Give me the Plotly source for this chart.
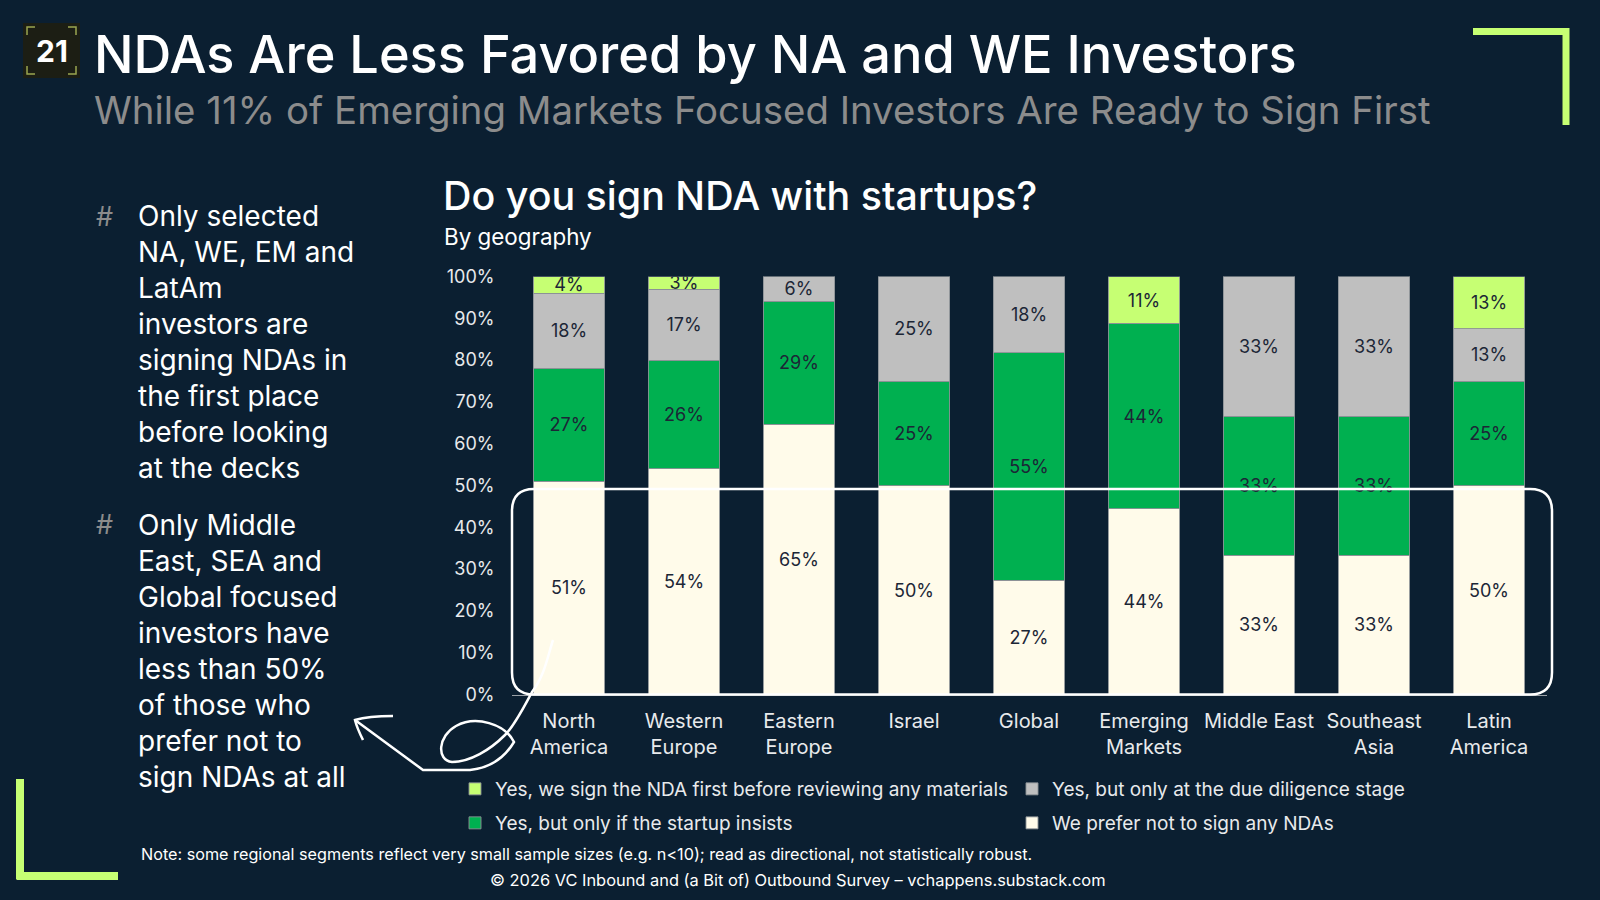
import plotly.graph_objects as go

W, H = 1600, 900

# ---------------- data ----------------
categories = ["North<br>America", "Western<br>Europe", "Eastern<br>Europe", "Israel", "Global",
              "Emerging<br>Markets", "Middle East", "Southeast<br>Asia", "Latin<br>America"]
prefer_not = [51, 54, 64.7, 50, 27.3, 44.4, 33.3, 33.3, 50]
if_insists = [27, 26, 29.4, 25, 54.5, 44.4, 33.3, 33.3, 25]
due_diligence = [18, 17, 5.9, 25, 18.2, 0, 33.3, 33.3, 12.5]
sign_first = [4, 3, 0, 0, 0, 11.1, 0, 0, 12.5]

series_names = [
    "We prefer not to sign any NDAs",
    "Yes, but only if the startup insists",
    "Yes, but only at the due diligence stage",
    "Yes, we sign the NDA first before reviewing any materials",
]
series_values = [prefer_not, if_insists, due_diligence, sign_first]
series_colors = ["#FFFBEA", "#00B050", "#BFBFBF", "#C6FF73"]
series_legend = ["legend2", "legend2", "legend", "legend"]
series_rank = [4, 3, 2, 1]

y_ticks = list(range(0, 101, 10))

bullet1 = ["Only selected", "NA, WE, EM and", "LatAm", "investors are", "signing NDAs in",
           "the first place", "before looking", "at the decks"]
bullet2 = ["Only Middle", "East, SEA and", "Global focused", "investors have", "less than 50%",
           "of those who", "prefer not to", "sign NDAs at all"]

BG = "#0B1F31"
LIME = "#C6FF73"
FONT = "Inter"


def px(x):
    return x / W


def py(y):
    return 1 - y / H


fig = go.Figure()
for name, vals, col, lg, rk in zip(series_names, series_values, series_colors, series_legend, series_rank):
    fig.add_trace(go.Bar(
        x=categories, y=vals, name=name,
        marker=dict(color=col, line=dict(color="rgba(140,145,150,0.9)", width=1)),
        texttemplate=["%{y:.0f}%" if v > 0 else "" for v in vals],
        textposition="inside", insidetextanchor="middle",
        textfont=dict(family=FONT, size=18, color="#1C2636"),
        constraintext="none",
        legend=lg, legendrank=rk, hoverinfo="skip",
    ))

legend_common = dict(orientation="h", x=px(455), xanchor="left", yanchor="middle",
                     entrywidth=512, bgcolor="rgba(0,0,0,0)", traceorder="normal",
                     font=dict(family=FONT, size=19, color="#E8EAEC"), itemclick=False, itemdoubleclick=False)

fig.update_layout(
    width=W, height=H, autosize=False,
    paper_bgcolor=BG, plot_bgcolor=BG,
    margin=dict(l=0, r=0, t=0, b=0, pad=0, autoexpand=False),
    barmode="stack", bargap=0.38,
    uniformtext=dict(minsize=18, mode="show"),
    font=dict(family=FONT, color="#E8EAEC"),
    showlegend=True,
    xaxis=dict(domain=[px(511.5), px(1546.5)], showline=True, linecolor="#9AA0A6", linewidth=1,
               ticks="", tickfont=dict(family=FONT, size=20, color="#E8EAEC"),
               ticklabelstandoff=8, fixedrange=True, automargin=False),
    yaxis=dict(domain=[py(694.5), py(276.5)], range=[0, 100], tickvals=y_ticks,
               ticktext=[f"{t}%" for t in y_ticks], showgrid=False, zeroline=False, showline=False,
               ticks="", tickfont=dict(family=FONT, size=18, color="#E8EAEC"),
               ticklabelstandoff=16, fixedrange=True, automargin=False),
    legend=dict(legend_common, y=py(789)),
    legend2=dict(legend_common, y=py(823)),
)

ann = []


def text(x, y, s, size, color="#FFFFFF", xanchor="left", yanchor="middle", weight=None, align="left"):
    f = dict(family=FONT, size=size, color=color)
    if weight:
        f["weight"] = weight
    ann.append(dict(x=px(x), y=py(y), xref="paper", yref="paper", text=s, showarrow=False,
                    xanchor=xanchor, yanchor=yanchor, font=f, align=align))


# titles
text(92, 54, "NDAs Are Less Favored by NA and WE Investors", 52.3, "#FFFFFF", weight=500)
text(92, 110, "While 11% of Emerging Markets Focused Investors Are Ready to Sign First", 38.4, "#8C8C8C")
text(441, 196, "Do you sign NDA with startups?", 39.4, "#FFFFFF", weight=500)
text(442, 236, "By geography", 22.4, "#FFFFFF")

# badge
text(51.5, 51, "21", 30, "#FFFFFF", xanchor="center", weight=700)

# bullets
for i, s in enumerate(bullet1):
    text(136, 216.3 + 36.0 * i, s, 28, "#FFFFFF")
for i, s in enumerate(bullet2):
    text(136, 524.5 + 36.0 * i, s, 28, "#FFFFFF")
text(94, 216.3, "#", 27, "#8C8C8C")
text(94, 524.5, "#", 27, "#8C8C8C")

# footnotes
text(139, 854, "Note: some regional segments reflect very small sample sizes (e.g. n<10); read as directional, not statistically robust.", 16.2, "#FFFFFF")
text(798, 880, "© 2026 VC Inbound and (a Bit of) Outbound Survey – vchappens.substack.com", 16.4, "#FFFFFF", xanchor="center")

fig.update_layout(annotations=ann)

shapes = []


def line(x0, y0, x1, y1, color, width):
    shapes.append(dict(type="line", xref="paper", yref="paper", x0=px(x0), y0=py(y0), x1=px(x1), y1=py(y1),
                       line=dict(color=color, width=width)))


def path(pts_str, color="#FFFFFF", width=2.5, fill=None):
    d = dict(type="path", xref="paper", yref="paper", path=pts_str, line=dict(color=color, width=width))
    if fill:
        d["fillcolor"] = fill
    shapes.append(d)


def P(x, y):
    return f"{px(x):.5f},{py(y):.5f}"


# badge box + corner brackets
shapes.append(dict(type="rect", xref="paper", yref="paper", x0=px(23), y0=py(78), x1=px(80), y1=py(23),
                   fillcolor="#1C1E14", line=dict(width=0)))
bc = "#9AA650"
L0, R0, T0, B0, k = 27, 76, 27, 74, 8
for (cx, cy, dx, dy) in [(L0, T0, 1, 1), (R0, T0, -1, 1), (L0, B0, 1, -1), (R0, B0, -1, -1)]:
    path(f"M{P(cx + dx * k, cy)} L{P(cx, cy)} L{P(cx, cy + dy * k)}", bc, 1.5)

# corner decorations
line(1473, 31.5, 1566, 31.5, LIME, 7)
line(1566, 28, 1566, 125, LIME, 7)
line(20, 779, 20, 879, LIME, 8)
line(16.5, 876, 118, 876, LIME, 8)

# rounded highlight rectangle
l, r, t, b, rad = 512, 1552, 489, 694.5, 22
rect_path = (f"M{P(l + rad, t)} L{P(r - rad, t)} Q{P(r, t)} {P(r, t + rad)} L{P(r, b - rad)} "
             f"Q{P(r, b)} {P(r - rad, b)} L{P(l + rad, b)} Q{P(l, b)} {P(l, b - rad)} "
             f"L{P(l, t + rad)} Q{P(l, t)} {P(l + rad, t)}")
path(rect_path, "#FFFFFF", 2.5)

# hand-drawn arrow
arrow = (f"M{P(553, 640)} C{P(548, 655)} {P(545, 675)} {P(532, 692)} "
         f"C{P(525, 705)} {P(515, 725)} {P(505, 735)} "
         f"C{P(490, 750)} {P(470, 762)} {P(452, 762)} "
         f"C{P(436, 760)} {P(438, 736)} {P(456, 726)} "
         f"C{P(476, 715)} {P(505, 724)} {P(514, 742)} "
         f"C{P(505, 757)} {P(490, 768)} {P(470, 770)} "
         f"L{P(423, 770)} L{P(355, 720)}")
path(arrow, "#FFFFFF", 2.5)
path(f"M{P(393, 716)} C{P(380, 716)} {P(365, 717)} {P(355, 720)} C{P(357, 728)} {P(360, 734)} {P(363, 740)}",
     "#FFFFFF", 2.5)

fig.update_layout(shapes=shapes)

css_js = ("var s=document.createElement('style');"
          "s.textContent='html,body{margin:0!important;padding:0!important;overflow:hidden;background:#0B1F31;"
          "width:1600px;height:900px;}';"
          "document.head.appendChild(s);")

fig.write_html("out.html", config={"displayModeBar": False, "responsive": False},
               post_script=css_js)
